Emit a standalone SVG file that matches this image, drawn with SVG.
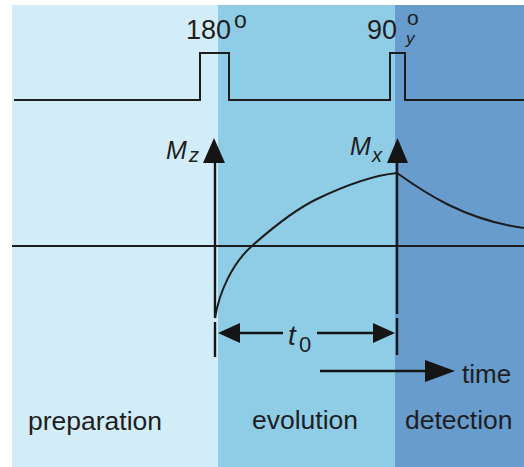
<svg xmlns="http://www.w3.org/2000/svg" width="524" height="467" viewBox="0 0 524 467">
<style>
.ln{stroke:#1c1c1c;stroke-width:2;fill:none}
.ax{stroke:#151515;stroke-width:2.4;fill:none}
.ah{fill:#151515}
.t{font-family:"Liberation Sans",Arial,sans-serif;fill:#1e1e22}
.it{font-style:italic}
</style>
<rect width="524" height="467" fill="#ffffff"/>
<g id="regions">
<rect id="preparation-bg" x="12" y="5" width="206" height="462" fill="#d2edf7"/>
<rect id="evolution-bg" x="218" y="5" width="177" height="462" fill="#8fcde7"/>
<rect id="detection-bg" x="395" y="5" width="129" height="462" fill="#689ccd"/>
</g>
<g id="connectors">
<polyline id="pulse-sequence" class="ln" points="14,100 200,100 200,53 229,53 229,100 390,100 390,53 405,53 405,100 524,100"/>
<line id="baseline" class="ln" x1="12" y1="246" x2="524" y2="246"/>
<line id="axis-mz" class="ax" x1="215" y1="160" x2="215" y2="318"/>
<polygon class="ah" points="214,138 203,163 225,163"/>
<line id="axis-mx" class="ax" x1="397" y1="160" x2="397" y2="314"/>
<polygon class="ah" points="397.5,138 387,163 408,163"/>
<line class="ax" x1="215" y1="322" x2="215" y2="357"/>
<line class="ax" x1="397" y1="318" x2="397" y2="355"/>
<path id="recovery" class="ln" d="M215,318 C219,293 232,263 253,245 C270,230 296,209 317,199 C342,187 372,175.5 397,173"/>
<path id="decay" class="ln" d="M397,173 C425,193 465,220 524,228"/>
<g id="t0-arrow">
<line class="ax" x1="238" y1="333" x2="283" y2="333"/>
<line class="ax" x1="317" y1="333" x2="375" y2="333"/>
<polygon class="ah" points="218,333 240,323 240,343"/>
<polygon class="ah" points="395,333 373,323 373,343"/>
</g>
<g id="time-arrow">
<line class="ax" x1="320" y1="371" x2="430" y2="371"/>
<polygon class="ah" points="455,371 425,360 425,382"/>
</g>
</g>
<g id="labels">
<g id="pulse-180"><text class="t" x="186" y="39" font-size="27">180<tspan x="234" y="28" font-size="23">o</tspan></text></g>
<g id="pulse-90"><text class="t" x="397" y="39" font-size="27" text-anchor="end">90</text>
<text class="t" x="407" y="25" font-size="21">o</text>
<text class="t it" x="406" y="44" font-size="17">y</text></g>
<g id="label-mz"><text class="t it" x="166" y="159" font-size="25">M<tspan x="189" y="162" font-size="20">z</tspan></text></g>
<g id="label-mx"><text class="t it" x="350" y="155" font-size="25">M<tspan x="372" y="162" font-size="20">x</tspan></text></g>
<g id="label-t0"><text class="t it" x="288" y="345" font-size="28">t<tspan x="299" y="352" font-size="22" font-style="normal">0</tspan></text></g>
<g id="label-time"><text class="t" x="462" y="383" font-size="26">time</text></g>
<g id="label-preparation"><text class="t" x="28" y="430" font-size="26.5">preparation</text></g>
<g id="label-evolution"><text class="t" x="252" y="429" font-size="26.5">evolution</text></g>
<g id="label-detection"><text class="t" x="405" y="429" font-size="26.5">detection</text></g>
</g>
</svg>
